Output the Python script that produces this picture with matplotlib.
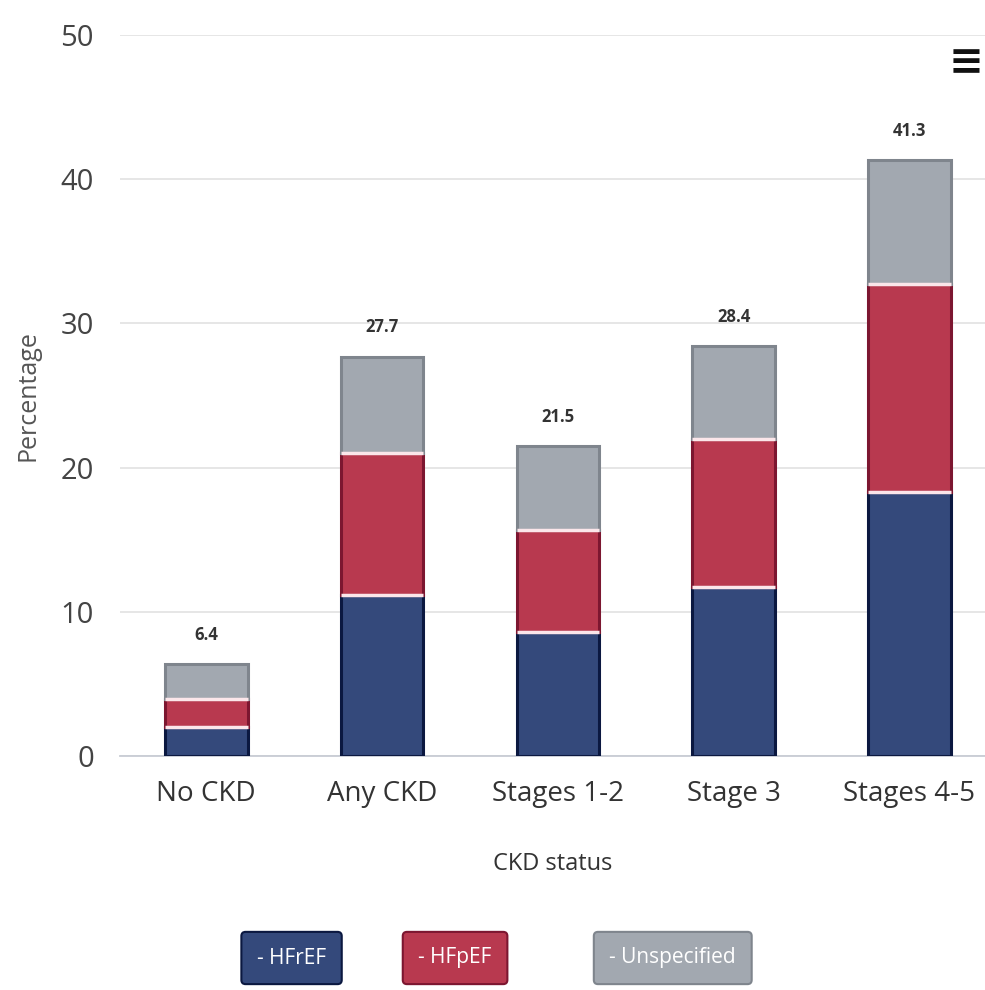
import matplotlib.pyplot as plt
import numpy as np

# CKD status groups and heart-failure prevalence (%) by phenotype
categories = ['No CKD', 'Any CKD', 'Stages 1-2', 'Stage 3', 'Stages 4-5']
hfref = [2.0, 11.2, 8.6, 11.7, 18.3]
hfpef = [2.0, 9.8, 7.1, 10.3, 14.4]
unspecified = [2.4, 6.7, 5.8, 6.4, 8.6]
totals = [6.4, 27.7, 21.5, 28.4, 41.3]

series = [('- HFrEF', hfref, '#34497b', '#0b1840'),
          ('- HFpEF', hfpef, '#b8394f', '#7c1630'),
          ('- Unspecified', unspecified, '#a2a8b0', '#7f858d')]

plt.rcParams['font.family'] = ['Open Sans', 'DejaVu Sans']

fig = plt.figure(figsize=(9.85, 9.9), dpi=100)
ax = fig.add_axes([0.122, 0.236, 0.878, 0.729])

x = np.arange(len(categories))
bottom = np.zeros(len(categories))
for name, vals, color, edge in series:
    vals = np.array(vals)
    ax.bar(x, vals, 0.47, bottom=bottom, color=color, edgecolor=edge, lw=2.2, zorder=3)
    bottom += vals
    # thin light separator on top of each segment
    if name != '- Unspecified':
        ax.hlines(bottom, x - 0.235, x + 0.235, colors='#fbe6ea', lw=2.5, zorder=4)

for xi, t in zip(x, totals):
    ax.text(xi, t + 1.4, f'{t}', ha='center', va='bottom', fontsize=12, fontweight='bold',
            color='#333333')

ax.set_xlim(-0.49, 4.43)
ax.set_ylim(0, 50)
ax.set_yticks([0, 10, 20, 30, 40, 50])
ax.yaxis.grid(True, color='#e4e4e4', lw=1.3, zorder=0)
ax.set_axisbelow(True)
for s in ['top', 'right', 'left']:
    ax.spines[s].set_visible(False)
ax.spines['bottom'].set_color('#c8ccd4')
ax.spines['bottom'].set_linewidth(1.3)
ax.tick_params(axis='both', length=0)
ax.tick_params(axis='y', labelsize=21, labelcolor='#444444', pad=19)
ax.tick_params(axis='x', pad=17)
ax.set_xticks(x)
ax.set_xticklabels(categories, fontsize=20, color='#333333')
ax.set_xlabel('CKD status', fontsize=17, color='#333333', labelpad=32)
ax.set_ylabel('Percentage', fontsize=18, color='#555555', labelpad=14)

# legend as coloured buttons
legend_x = [0.296, 0.462, 0.683]
for (name, vals, color, edge), lx in zip(series, legend_x):
    fig.text(lx, 1 - 958 / 990, name, ha='center', va='center', fontsize=15, color='white',
             bbox=dict(boxstyle='round,pad=0.75,rounding_size=0.2', fc=color, ec=edge, lw=1.5))

# export menu button
fig.text(0.998, 1 - 62 / 990, '\u2261', ha='right', va='center', fontsize=30,
         fontweight='bold', color='#111111', family='DejaVu Sans')

fig.savefig('out.png', dpi=100)
